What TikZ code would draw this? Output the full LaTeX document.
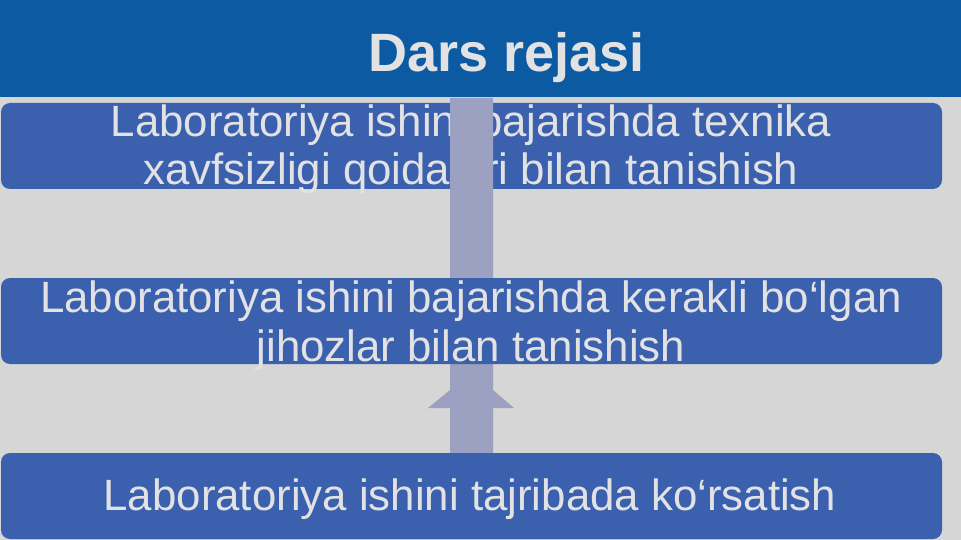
\documentclass[tikz,border=0pt]{standalone}
\usepackage{fontspec}
\setmainfont{Liberation Sans}
\definecolor{bandblue}{HTML}{0B5AA2}
\definecolor{boxblue}{HTML}{3B61AE}
\definecolor{textgray}{HTML}{E2E2E4}
\definecolor{arrowgray}{HTML}{9DA1C1}
\definecolor{backgray}{HTML}{D6D6D6}
\begin{document}
\begin{tikzpicture}[x=1pt,y=-1pt]
	\tikzstyle{every node}+=[inner sep=0pt, outer sep=0pt]
	\tikzstyle{box}=[fill=boxblue, rounded corners=9pt, minimum width=941pt, minimum height=86pt, anchor=north west]
	\tikzstyle{line}=[text=textgray, anchor=base, font=\fontsize{43.8}{48}\selectfont]
	\fill [backgray] (0,0) rectangle (961,540);
	\fill [bandblue] (0,0) rectangle (961,97);
	\node [text=textgray, anchor=base, font=\fontsize{54}{64}\selectfont\bfseries] (title) at (507,72) {Dars rejasi};

	\node [box] (b1) at (1,103) {};
	\node [line] (b1a) at (471,137) {Laboratoriya ishini bajarishda texnika};
	\node [line] (b1b) at (471,185) {xavfsizligi qoidalari bilan tanishish};

	\fill [arrowgray] (450,98) -- (493,98) -- (493,390) -- (514,408) -- (493,408) -- (493,453)
		-- (450,453) -- (450,408) -- (428,408) -- (450,390) -- cycle;

	\node [box] (b2) at (1,278) {};
	\node [line] (b2a) at (471,312) {Laboratoriya ishini bajarishda kerakli bo‘lgan};
	\node [line] (b2b) at (471,361) {jihozlar bilan tanishish};

	\node [box] (b3) at (1,453) {};
	\node [line] (b3a) at (470,510) {Laboratoriya ishini tajribada ko‘rsatish};
\end{tikzpicture}
\end{document}
